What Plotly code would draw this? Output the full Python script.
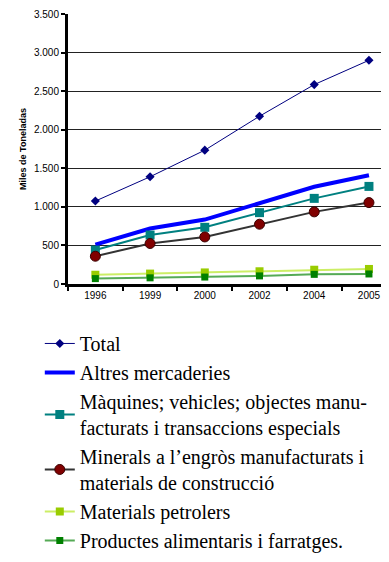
import plotly.graph_objects as go

years = ["1996", "1999", "2000", "2002", "2004", "2005"]

total = [1075, 1390, 1735, 2175, 2585, 2900]
altres = [510, 720, 835, 1050, 1260, 1410]
maquines = [440, 635, 735, 925, 1110, 1265]
minerals = [360, 525, 610, 775, 935, 1055]
petrolers = [120, 135, 150, 165, 185, 195]
alimentaris = [70, 80, 90, 105, 125, 130]

names = [
    "Total",
    "Altres mercaderies",
    "Màquines; vehicles; objectes manu-<br>facturats i transaccions especials",
    "Minerals a l’engròs manufacturats i<br>materials de construcció",
    "Materials petrolers",
    "Productes alimentaris i farratges.",
]

fig = go.Figure()

fig.add_trace(go.Scatter(
    x=years, y=total, name=names[0], mode="lines+markers",
    line=dict(color="#000080", width=1),
    marker=dict(symbol="diamond", size=7, color="#000080")
))
fig.add_trace(go.Scatter(
    x=years, y=altres, name=names[1], mode="lines",
    line=dict(color="#0000ff", width=4)
))
fig.add_trace(go.Scatter(
    x=years, y=maquines, name=names[2], mode="lines+markers",
    line=dict(color="#008080", width=2),
    marker=dict(symbol="square", size=9, color="#008080")
))
fig.add_trace(go.Scatter(
    x=years, y=minerals, name=names[3], mode="lines+markers",
    line=dict(color="#333333", width=2),
    marker=dict(symbol="circle", size=10, color="#800000",
                line=dict(color="#3a0000", width=1))
))
fig.add_trace(go.Scatter(
    x=years, y=petrolers, name=names[4], mode="lines+markers",
    line=dict(color="#ccee66", width=2),
    marker=dict(symbol="square", size=8, color="#99cc00")
))
fig.add_trace(go.Scatter(
    x=years, y=alimentaris, name=names[5], mode="lines+markers",
    line=dict(color="#55aa55", width=2),
    marker=dict(symbol="square", size=7, color="#008000")
))

fig.update_xaxes(
    type="category",
    range=[-0.5, 5.22],
    automargin=False,
    tickson="boundaries",
    ticks="outside",
    ticklen=4,
    tickwidth=2,
    tickcolor="black",
    showline=True,
    linecolor="black",
    linewidth=3,
    showgrid=False,
    tickfont=dict(family="Liberation Sans", size=10, color="black")
)

fig.update_yaxes(
    range=[0, 3500],
    dtick=500,
    tickformat=",d",
    automargin=False,
    ticks="outside",
    ticklen=4,
    tickwidth=2,
    tickcolor="black",
    showline=True,
    linecolor="black",
    linewidth=3,
    showgrid=True,
    gridcolor="#222222",
    gridwidth=1,
    zeroline=False,
    tickfont=dict(family="Liberation Sans", size=10, color="black"),
    title=dict(
        text="<b>Miles de Toneladas</b>",
        font=dict(family="Liberation Sans", size=9, color="black"),
        standoff=6
    )
)

# page adds an 8px body margin, so the figure is sized to fill the rest
fig.update_layout(
    width=373,
    height=546,
    separators=",.",
    plot_bgcolor="white",
    paper_bgcolor="white",
    margin=dict(l=60, r=0, t=6, b=270, autoexpand=False),
    showlegend=True,
    legend=dict(
        x=-0.0901, xanchor="left",
        y=-0.148, yanchor="top",
        font=dict(family="Liberation Serif", size=20, color="black"),
        bgcolor="rgba(0,0,0,0)",
        itemwidth=30,
        tracegroupgap=0
    )
)

fig.write_html("out.html")
